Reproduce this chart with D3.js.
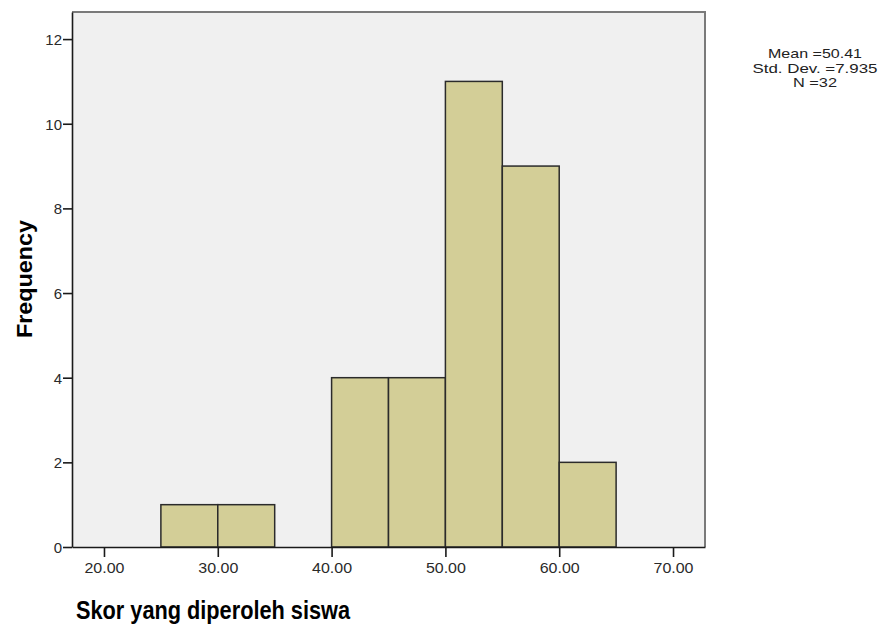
<!DOCTYPE html>
<html>
<head>
<meta charset="utf-8">
<script src="https://cdn.jsdelivr.net/npm/d3@7/dist/d3.min.js"></script>
<style>
  html, body { margin: 0; padding: 0; background: #ffffff; }
  svg { display: block; }
</style>
</head>
<body>
<svg id="chart" width="881" height="626"></svg>
<script>
// ---- data ----
const binLow = [25, 30, 40, 45, 50, 55, 60];
const binHigh = [30, 35, 45, 50, 55, 60, 65];
const counts = [1, 1, 4, 4, 11, 9, 2];
const xTicks = [20, 30, 40, 50, 60, 70];
const yTicks = [0, 2, 4, 6, 8, 10, 12];
const xTitle = "Skor yang diperoleh siswa";
const yTitle = "Frequency";
const statsLines = ["Mean =50.41", "Std. Dev. =7.935", "N =32"];

(function () {
const bins = binLow.map((lo, i) => ({ lo, hi: binHigh[i], n: counts[i] }));

const svg = d3.select("#chart");
const pL = 72, pR = 705, pT = 12, pB = 547;

const x = d3.scaleLinear().domain([17.19, 72.81]).range([pL, pR]);
const y = d3.scaleLinear().domain([0, 12.64]).range([pB, pT]);

const FONT = "Arial, 'Liberation Sans', sans-serif";
const NARROW = "'Liberation Sans Narrow', 'Arial Narrow', 'Liberation Sans', Arial, sans-serif";

// plot background
svg.append("rect")
  .attr("x", pL).attr("y", pT)
  .attr("width", pR - pL).attr("height", pB - pT)
  .attr("fill", "#f0f0f0");

// top & right frame
svg.append("path")
  .attr("d", `M${pL},${pT}H${pR}V${pB}`)
  .attr("fill", "none").attr("stroke", "#7a7a7a").attr("stroke-width", 2);

// bars
svg.append("g").selectAll("rect")
  .data(bins).join("rect")
  .attr("x", d => x(d.lo))
  .attr("y", d => y(d.n))
  .attr("width", d => x(d.hi) - x(d.lo))
  .attr("height", d => y(0) - y(d.n))
  .attr("fill", "#d3ce97")
  .attr("stroke", "#2b2b2b")
  .attr("stroke-width", 1.5);

// y axis
const yAxis = svg.append("g")
  .attr("transform", `translate(${pL},0)`)
  .call(d3.axisLeft(y).tickValues(yTicks).tickFormat(d3.format("d")).tickSize(9).tickSizeOuter(0));
yAxis.select(".domain").attr("stroke", "#1a1a1a").attr("stroke-width", 1.6);
yAxis.selectAll(".tick line").attr("stroke", "#1a1a1a").attr("stroke-width", 1.6);
yAxis.selectAll(".tick text")
  .attr("x", -10).attr("dy", "0.36em")
  .attr("font-family", FONT).attr("font-size", 15).attr("fill", "#2a2a2a");

// x axis
const xAxis = svg.append("g")
  .attr("transform", `translate(0,${pB})`)
  .call(d3.axisBottom(x).tickValues(xTicks).tickFormat(d3.format(".2f")).tickSize(10).tickSizeOuter(0));
xAxis.select(".domain").attr("stroke", "#1a1a1a").attr("stroke-width", 1.6);
xAxis.selectAll(".tick line").attr("stroke", "#1a1a1a").attr("stroke-width", 1.6);
xAxis.selectAll(".tick text")
  .attr("y", 15).attr("dy", "0.71em")
  .attr("font-family", FONT).attr("font-size", 15).attr("fill", "#2a2a2a")
  .attr("textLength", 40).attr("lengthAdjust", "spacingAndGlyphs");

// axis titles
svg.append("text")
  .attr("x", 76).attr("y", 619)
  .attr("font-family", NARROW).attr("font-weight", "bold").attr("font-size", 25)
  .attr("fill", "#000")
  .attr("textLength", 274).attr("lengthAdjust", "spacingAndGlyphs")
  .text(xTitle);

svg.append("text")
  .attr("transform", "translate(32,279) rotate(-90)")
  .attr("text-anchor", "middle")
  .attr("font-family", NARROW).attr("font-weight", "bold").attr("font-size", 22)
  .attr("fill", "#000")
  .attr("textLength", 118).attr("lengthAdjust", "spacingAndGlyphs")
  .text(yTitle);

// stats box text
const statWidths = [94, 125, 44];
svg.append("g").selectAll("text")
  .data(statsLines).join("text")
  .attr("x", 815)
  .attr("y", (d, i) => 58 + i * 14.5)
  .attr("text-anchor", "middle")
  .attr("font-family", NARROW).attr("font-size", 13)
  .attr("fill", "#222")
  .attr("textLength", (d, i) => statWidths[i]).attr("lengthAdjust", "spacingAndGlyphs")
  .text(d => d);
})();
</script>
</body>
</html>
